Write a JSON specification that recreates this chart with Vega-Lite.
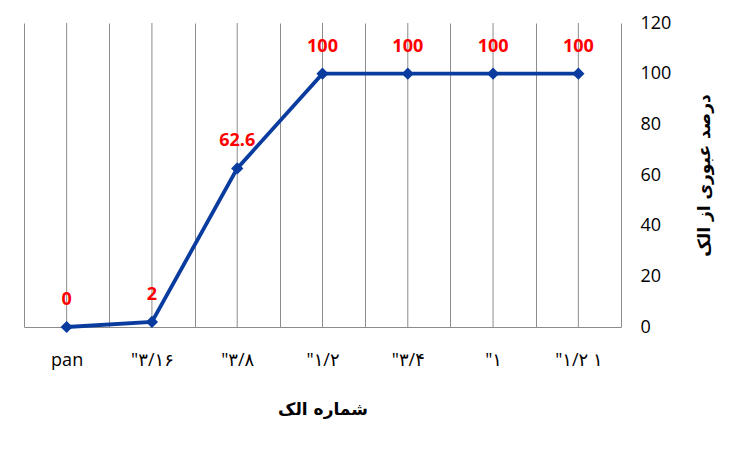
{
  "$schema": "https://vega.github.io/schema/vega-lite/v6.json",
  "width": 597,
  "height": 304,
  "autosize": {"type": "none"},
  "padding": {"left": 24, "top": 23, "right": 132, "bottom": 124},
  "background": "white",
  "data": {
    "values": [
      {"sieve": "pan", "pass": 0},
      {"sieve": "\"۳/۱۶", "pass": 2},
      {"sieve": "\"۳/۸", "pass": 62.6},
      {"sieve": "\"۱/۲", "pass": 100},
      {"sieve": "\"۳/۴", "pass": 100},
      {"sieve": "\"۱", "pass": 100},
      {"sieve": "\"۱/۲ ۱", "pass": 100}
    ]
  },
  "encoding": {
    "x": {
      "field": "sieve",
      "type": "nominal",
      "sort": null,
      "scale": {"paddingInner": 0, "paddingOuter": 0},
      "axis": {
        "title": "شماره الک",
        "labelAngle": 0,
        "grid": true,
        "tickBand": "extent",
        "gridColor": "#8c8c8c",
        "ticks": false,
        "tickSize": 0,
        "domainColor": "#8c8c8c",
        "labelPadding": 24,
        "titlePadding": 32
      }
    }
  },
  "layer": [
    {
      "mark": {"type": "rule", "color": "#8c8c8c", "strokeWidth": 1},
      "encoding": {}
    },
    {
      "mark": {"type": "line", "color": "#0a3c9f", "strokeWidth": 3.8},
      "encoding": {
        "y": {
          "field": "pass",
          "type": "quantitative",
          "scale": {"domain": [0, 120]},
          "axis": {
            "orient": "right",
            "title": "درصد عبوری از الک",
            "titleAngle": 270,
            "values": [0, 20, 40, 60, 80, 100, 120],
            "grid": false,
            "ticks": false,
            "tickSize": 0,
            "domain": false,
            "labelPadding": 19,
            "titlePadding": 43
          }
        }
      }
    },
    {
      "mark": {"type": "point", "shape": "diamond", "filled": true, "size": 150, "color": "#0a3c9f", "opacity": 1},
      "encoding": {
        "y": {"field": "pass", "type": "quantitative"}
      }
    },
    {
      "mark": {"type": "text", "color": "#ff0000", "fontWeight": "bold", "fontSize": 18, "dy": -27},
      "encoding": {
        "y": {"field": "pass", "type": "quantitative"},
        "text": {"field": "pass", "type": "quantitative"}
      }
    }
  ],
  "config": {
    "view": {"stroke": null},
    "font": "Open Sans, DejaVu Sans",
    "axis": {
      "labelFont": "Open Sans, DejaVu Sans",
      "labelFontSize": 18,
      "labelColor": "#000000",
      "titleFont": "DejaVu Sans",
      "titleFontSize": 17,
      "titleFontWeight": "bold",
      "titleColor": "#000000"
    },
    "text": {"font": "Open Sans"}
  }
}
